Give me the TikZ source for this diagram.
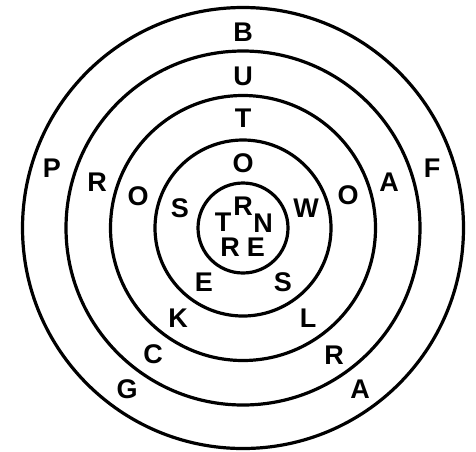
\documentclass[tikz,border=0pt]{standalone}
\usepackage{fontspec}
\setmainfont{Liberation Sans}
\begin{document}
\begin{tikzpicture}[x=1pt,y=-1pt,
  ring/.style={draw=black,line width=3.2pt},
  lt/.style={font=\fontsize{27}{29}\selectfont\bfseries,inner sep=0pt}]
\useasboundingbox (0,0) rectangle (476,451);
\coordinate (c) at (243,228);
\draw[ring] (c) circle[radius=220.5];
\draw[ring] (c) circle[radius=177];
\draw[ring] (c) circle[radius=132.5];
\draw[ring] (c) circle[radius=88];
\draw[ring] (c) circle[radius=45];
\node[lt] (b) at (243,32) {B};
\node[lt] (u) at (243,76) {U};
\node[lt] (t) at (243,118) {T};
\node[lt] (o) at (243,163) {O};
\node[lt] (r1) at (243,206) {R};
\node[lt] (t2) at (223,222) {T};
\node[lt] (n) at (263,223) {N};
\node[lt] (r2) at (230,247) {R};
\node[lt] (e1) at (256,247) {E};
\node[lt] (p) at (52,168) {P};
\node[lt] (r3) at (97,182) {R};
\node[lt] (o2) at (138,196) {O};
\node[lt] (s1) at (180,208) {S};
\node[lt] (w) at (306,208) {W};
\node[lt] (o3) at (348,195) {O};
\node[lt] (a1) at (389,182) {A};
\node[lt] (f) at (432,168) {F};
\node[lt] (e2) at (204,282) {E};
\node[lt] (s2) at (283,282) {S};
\node[lt] (k) at (178,318) {K};
\node[lt] (l) at (308,318) {L};
\node[lt] (cc) at (153,354) {C};
\node[lt] (r4) at (334,355) {R};
\node[lt] (g) at (127,389) {G};
\node[lt] (a2) at (360,389) {A};
\end{tikzpicture}
\end{document}
